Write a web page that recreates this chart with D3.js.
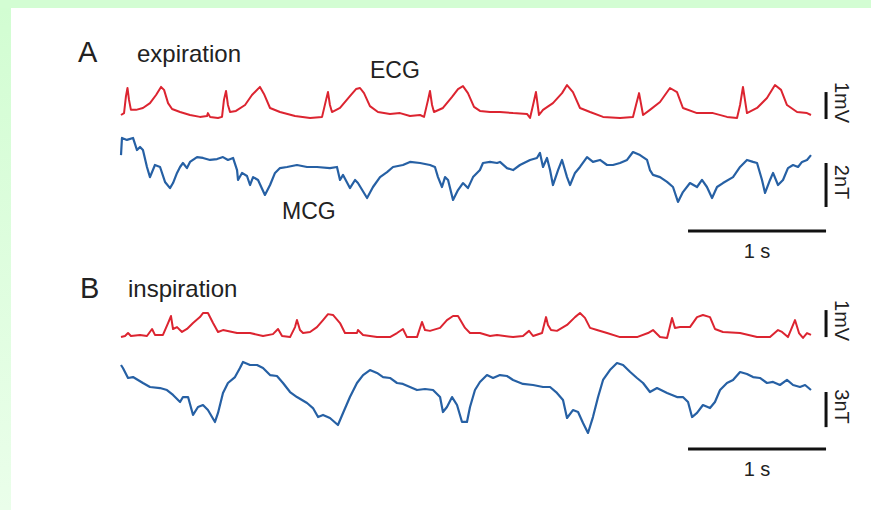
<!DOCTYPE html>
<html>
<head>
<meta charset="utf-8">
<script src="https://cdn.jsdelivr.net/npm/d3@7"></script>
<style>
  body { margin: 0; background: #fff; }
  text { font-family: "Liberation Sans", Arial, sans-serif; fill: #222; }
</style>
</head>
<body>
<script>
var w = 871,
    h = 510;

// [time (s), mV]
var ecgA = [[0,0],[0.022,0.07],[0.036,0.70],[0.047,1.00],[0.058,0.56],[0.072,0.19],[0.109,0.19],[0.159,0.26],
  [0.210,0.44],[0.254,0.74],[0.290,1.04],[0.312,0.93],[0.341,0.44],[0.370,0.22],[0.428,0.11],[0.500,0],
  [0.572,-0.07],[0.623,-0.04],[0.630,0.07],[0.645,-0.07],[0.703,-0.11],[0.732,-0.07],[0.746,0.56],[0.761,0.89],
  [0.775,0.37],[0.790,0.11],[0.833,0.15],[0.899,0.37],[0.949,0.74],[1.007,1.04],[1.036,0.78],[1.080,0.26],
  [1.152,0.11],[1.261,-0.04],[1.370,-0.11],[1.457,-0.07],[1.486,0.56],[1.500,0.85],[1.514,0.37],[1.529,0.11],
  [1.587,0.26],[1.659,0.70],[1.703,0.96],[1.732,1.00],[1.761,0.81],[1.804,0.33],[1.862,0.11],[1.949,0.04],
  [2.022,0.07],[2.094,-0.04],[2.167,0],[2.196,-0.07],[2.225,0.56],[2.239,0.89],[2.254,0.37],[2.268,0.11],
  [2.333,0.26],[2.399,0.67],[2.442,0.96],[2.478,1.07],[2.514,0.81],[2.558,0.30],[2.601,0.15],[2.674,0.11],
  [2.746,0.11],[2.841,0.07],[2.942,0.04],[2.964,-0.11],[2.986,0.37],[3.007,0.85],[3.029,0],[3.058,0.19],
  [3.130,0.44],[3.196,0.81],[3.232,1.11],[3.275,0.85],[3.326,0.26],[3.399,0.11],[3.493,-0.07],[3.616,-0.11],
  [3.710,-0.07],[3.732,0.37],[3.754,0.81],[3.783,0],[3.833,0.19],[3.906,0.48],[3.978,1.00],[4.029,0.85],
  [4.072,0.26],[4.174,0.07],[4.290,0.07],[4.391,-0.07],[4.464,-0.11],[4.486,0.37],[4.507,1.04],[4.536,0.07],
  [4.609,0.26],[4.681,0.63],[4.739,1.11],[4.783,0.93],[4.826,0.37],[4.899,0.11],[4.971,0.07],[5.000,0]];

// [time (s), nT]
var mcgA = [[0,0.45],[0.007,1.23],[0.043,1.14],[0.087,1.23],[0.116,0.68],[0.138,0.82],[0.159,0.68],[0.188,-0.09],
  [0.210,-0.55],[0.246,0],[0.283,-0.09],[0.319,-0.77],[0.355,-1.05],[0.377,-0.82],[0.406,-0.36],[0.428,-0.09],
  [0.449,0.09],[0.478,-0.14],[0.500,0.14],[0.551,0.36],[0.594,0.32],[0.645,0.23],[0.696,0.27],[0.739,0.36],
  [0.775,0.23],[0.812,0.32],[0.841,-0.23],[0.848,-0.68],[0.877,-0.36],[0.913,-0.5],[0.935,-0.91],[0.957,-0.55],
  [0.993,-0.68],[1.043,-1.36],[1.080,-0.91],[1.116,-0.36],[1.152,-0.14],[1.203,-0.09],[1.275,0],[1.348,-0.09],
  [1.420,-0.09],[1.514,-0.14],[1.565,-0.09],[1.587,-0.68],[1.609,-0.45],[1.659,-1.05],[1.696,-0.68],[1.717,-0.82],
  [1.783,-1.5],[1.826,-1.0],[1.877,-0.55],[1.928,-0.32],[1.971,-0.09],[2.043,0],[2.094,0.14],[2.167,0.09],
  [2.239,0],[2.275,-0.09],[2.297,-0.55],[2.326,-1.0],[2.348,-0.55],[2.370,-0.68],[2.406,-1.59],[2.442,-1.14],
  [2.478,-0.82],[2.514,-1.05],[2.551,-0.55],[2.601,-0.23],[2.623,0.09],[2.674,0.14],[2.725,0.09],[2.746,0.14],
  [2.797,-0.14],[2.841,-0.23],[2.891,0],[2.964,0.23],[3.014,0.32],[3.036,0.55],[3.058,-0.09],[3.087,0.32],
  [3.109,-0.23],[3.130,-0.91],[3.167,-0.23],[3.196,0.23],[3.232,-0.55],[3.254,-0.91],[3.290,-0.36],[3.326,-0.09],
  [3.377,0.36],[3.420,0.14],[3.471,0.23],[3.522,0],[3.565,0],[3.616,0.09],[3.667,0.23],[3.710,0.59],
  [3.761,0.45],[3.812,0.23],[3.833,-0.23],[3.855,-0.45],[3.906,-0.55],[3.957,-0.77],[4.000,-1.0],[4.036,-1.68],
  [4.072,-1.23],[4.123,-0.82],[4.174,-1.0],[4.210,-0.68],[4.246,-1.0],[4.283,-1.5],[4.319,-1.0],[4.362,-0.82],
  [4.435,-0.55],[4.486,-0.09],[4.536,0.23],[4.580,0.14],[4.609,0.09],[4.645,-0.68],[4.667,-1.27],[4.703,-0.68],
  [4.725,-0.36],[4.761,-0.91],[4.797,-0.68],[4.833,-0.14],[4.870,0],[4.906,-0.09],[4.935,0.14],[4.971,0.23],
  [5.000,0.45]];

var ecgB = [[0,-0.04],[0.029,0],[0.051,0.11],[0.072,0],[0.138,0.04],[0.188,0],[0.225,0.26],[0.246,0.04],
  [0.304,0.04],[0.341,0.48],[0.362,0.74],[0.377,0.26],[0.406,0.33],[0.442,0.15],[0.478,0.26],[0.522,0.48],
  [0.572,0.70],[0.594,0.85],[0.630,0.85],[0.667,0.48],[0.703,0.15],[0.739,0.22],[0.841,0.11],[0.935,0.11],
  [1.029,0],[1.101,0.07],[1.138,0.26],[1.167,0],[1.225,-0.04],[1.261,0.33],[1.275,0.59],[1.297,0.22],
  [1.319,0.11],[1.370,0.15],[1.420,0.33],[1.464,0.59],[1.500,0.81],[1.536,0.78],[1.587,0.48],[1.623,0.11],
  [1.710,0.11],[1.717,0.22],[1.754,0.04],[1.855,-0.04],[1.949,-0.04],[2.000,0.11],[2.043,0.26],[2.072,-0.04],
  [2.145,-0.04],[2.181,0.52],[2.203,0.22],[2.239,0.19],[2.312,0.30],[2.362,0.59],[2.406,0.74],[2.442,0.74],
  [2.493,0.30],[2.529,0.11],[2.601,0.11],[2.674,0],[2.725,0.04],[2.841,-0.04],[2.913,0],[2.957,0.19],
  [2.986,0],[3.051,0.11],[3.080,0.70],[3.094,0.41],[3.116,0.22],[3.159,0.19],[3.232,0.41],[3.290,0.70],
  [3.326,0.85],[3.362,0.67],[3.399,0.30],[3.449,0.22],[3.522,0.11],[3.616,-0.04],[3.739,-0.04],[3.819,0.11],
  [3.855,0.22],[3.906,-0.04],[3.957,-0.07],[3.993,0.67],[4.014,0.30],[4.051,0.33],[4.123,0.33],[4.174,0.70],
  [4.217,0.78],[4.268,0.70],[4.304,0.26],[4.362,0.15],[4.486,0.11],[4.609,-0.04],[4.703,-0.04],[4.761,0.22],
  [4.790,0.15],[4.833,-0.04],[4.884,0.59],[4.913,0.11],[4.942,-0.07],[4.971,0.11],[5.000,0.04]];

var mcgB = [[0,1.71],[0.014,1.45],[0.051,0.60],[0.087,0.68],[0.123,0.43],[0.159,0.17],[0.210,-0.17],[0.283,-0.26],
  [0.333,-0.43],[0.377,-0.85],[0.428,-1.45],[0.449,-1.03],[0.486,-1.03],[0.522,-2.56],[0.558,-1.88],[0.594,-1.71],
  [0.630,-2.14],[0.681,-3.16],[0.703,-2.39],[0.739,-0.68],[0.775,0.17],[0.826,0.68],[0.862,1.45],[0.884,1.97],
  [0.935,1.71],[0.986,1.71],[1.029,1.45],[1.080,0.85],[1.130,0.77],[1.174,0.17],[1.225,-0.60],[1.275,-1.03],
  [1.348,-1.54],[1.391,-1.97],[1.428,-2.74],[1.464,-2.56],[1.514,-2.82],[1.572,-3.42],[1.609,-2.39],[1.659,-1.03],
  [1.710,0.17],[1.754,0.85],[1.804,1.28],[1.855,1.03],[1.899,0.68],[1.949,0.60],[2.000,0.17],[2.043,0.09],
  [2.094,-0.17],[2.145,-0.43],[2.203,-0.34],[2.261,-0.43],[2.312,-1.03],[2.333,-2.31],[2.362,-1.88],[2.399,-1.03],
  [2.435,-1.71],[2.471,-3.16],[2.507,-3.16],[2.529,-1.88],[2.565,-0.43],[2.601,0.26],[2.652,0.85],[2.696,0.60],
  [2.746,0.85],[2.797,0.77],[2.841,0.43],[2.913,0.09],[2.986,0],[3.058,-0.17],[3.109,-0.17],[3.159,-0.68],
  [3.203,-1.28],[3.232,-2.82],[3.275,-2.14],[3.312,-2.31],[3.348,-3.25],[3.384,-4.10],[3.420,-2.74],[3.457,-1.03],
  [3.493,0.43],[3.543,1.28],[3.594,1.88],[3.638,1.71],[3.690,1.11],[3.739,0.60],[3.783,0.17],[3.833,-0.60],
  [3.884,-0.26],[3.957,-0.68],[4.029,-1.03],[4.072,-1.03],[4.109,-1.45],[4.138,-2.74],[4.174,-2.39],[4.217,-1.71],
  [4.268,-1.97],[4.304,-1.45],[4.341,-0.43],[4.391,0.17],[4.435,0.43],[4.486,1.11],[4.536,0.94],[4.580,0.68],
  [4.630,0.60],[4.681,0.17],[4.725,0.26],[4.775,0],[4.826,0.43],[4.870,0],[4.920,-0.17],[4.957,0],[5.000,-0.43]];

// scale bars: [from, to] in data units
var timeBar = [4.109, 5.109],
    mvBarA = [-0.15, 0.85],
    ntBarA = [-1.91, 0.09],
    mvBarB = [-0.04, 0.96],
    ntBarB = [-3.6, -0.6];

var svg = d3.select("body")
            .append("svg")
            .attr("width", w)
            .attr("height", h);

// page background: green frame
var grad = svg.append("defs").append("linearGradient")
    .attr("id", "side").attr("x1", 0).attr("y1", 0).attr("x2", 0).attr("y2", 1);
grad.append("stop").attr("offset", "0%").attr("stop-color", "#d2fdd2");
grad.append("stop").attr("offset", "100%").attr("stop-color", "#eafeea");
svg.append("rect").attr("width", w).attr("height", h).attr("fill", "#fff");
svg.append("rect").attr("width", w).attr("height", 8).attr("fill", "#d3fdd3");
svg.append("rect").attr("y", 8).attr("width", 11).attr("height", h - 8).attr("fill", "url(#side)");

var x = d3.scaleLinear().domain([0, 5]).range([121, 811]);

var panels = [
  { ecg: ecgA, mcg: mcgA, yE: d3.scaleLinear().domain([0, 1]).range([115, 88]),
    yM: d3.scaleLinear().domain([0, 1]).range([165, 143]),
    mv: mvBarA, nt: ntBarA, ntLabel: "2nT", barY: 231 },
  { ecg: ecgB, mcg: mcgB, yE: d3.scaleLinear().domain([0, 1]).range([336, 309]),
    yM: d3.scaleLinear().domain([0, 1]).range([385, 373.3]),
    mv: mvBarB, nt: ntBarB, ntLabel: "3nT", barY: 449 }
];

panels.forEach(function(p) {
  var lineE = d3.line().x(function(d) { return x(d[0]); }).y(function(d) { return p.yE(d[1]); });
  var lineM = d3.line().x(function(d) { return x(d[0]); }).y(function(d) { return p.yM(d[1]); });

  svg.append("path")
      .attr("d", lineE(p.ecg))
      .attr("fill", "none")
      .attr("stroke", "#dc2430")
      .attr("stroke-width", 2)
      .attr("stroke-linejoin", "round");

  svg.append("path")
      .attr("d", lineM(p.mcg))
      .attr("fill", "none")
      .attr("stroke", "#2660a4")
      .attr("stroke-width", 2.2)
      .attr("stroke-linejoin", "round");

  var bx = x(timeBar[1]);

  // vertical calibration bars, label centred beside each
  [[p.yE(p.mv[0]), p.yE(p.mv[1]), "1mV"], [p.yM(p.nt[0]), p.yM(p.nt[1]), p.ntLabel]].forEach(function(b) {
    svg.append("line")
        .attr("x1", bx).attr("x2", bx)
        .attr("y1", b[0]).attr("y2", b[1])
        .attr("stroke", "#111")
        .attr("stroke-width", 3);
    var ty = (b[0] + b[1]) / 2 - 3;
    svg.append("text")
        .attr("transform", "translate(" + (bx + 9) + "," + ty + ") rotate(90)")
        .attr("text-anchor", "middle")
        .attr("font-size", "20px")
        .text(b[2]);
  });

  // time bar
  svg.append("line")
      .attr("x1", x(timeBar[0])).attr("x2", x(timeBar[1]))
      .attr("y1", p.barY).attr("y2", p.barY)
      .attr("stroke", "#111")
      .attr("stroke-width", 3);
  svg.append("text")
      .attr("x", (x(timeBar[0]) + x(timeBar[1])) / 2)
      .attr("y", p.barY + 27)
      .attr("text-anchor", "middle")
      .attr("font-size", "20px")
      .text("1 s");
});

var labels = [
  { t: "A", x: 78, y: 62, s: 29 },
  { t: "expiration", x: 137, y: 62, s: 24 },
  { t: "ECG", x: 370, y: 78, s: 23 },
  { t: "MCG", x: 282, y: 219, s: 23 },
  { t: "B", x: 80, y: 298, s: 29 },
  { t: "inspiration", x: 128, y: 297, s: 24 }
];

svg.selectAll("text.lab")
    .data(labels)
    .enter()
    .append("text")
    .attr("class", "lab")
    .attr("x", function(d) { return d.x; })
    .attr("y", function(d) { return d.y; })
    .attr("font-size", function(d) { return d.s + "px"; })
    .text(function(d) { return d.t; });
</script>
</body>
</html>
